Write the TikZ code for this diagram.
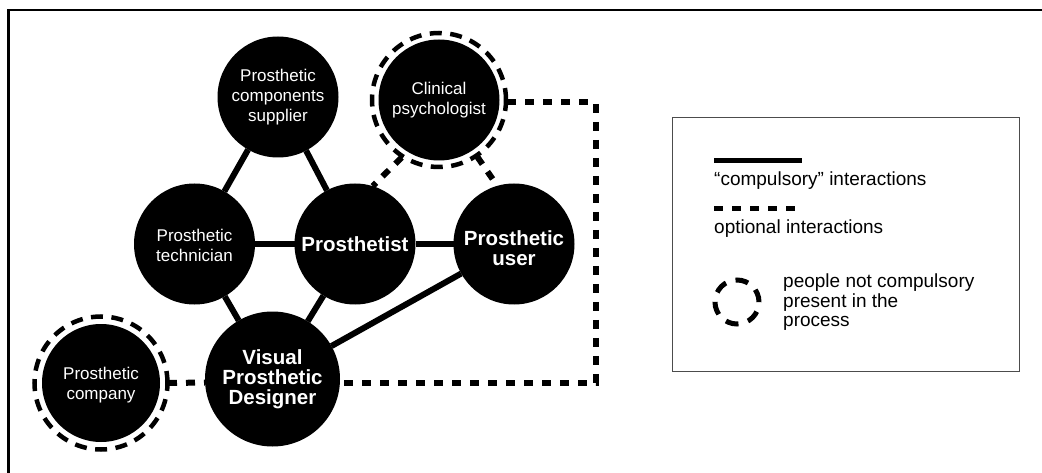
\documentclass[tikz,border=0pt]{standalone}
\usepackage{fontspec}
\setmainfont{Liberation Sans}
\begin{document}
\begin{tikzpicture}[x=1pt,y=-1pt,
 person/.style={circle, fill=black, text=white, inner sep=0pt, outer sep=0pt, minimum size=121pt, align=center, font=\fontsize{17pt}{20pt}\selectfont},
 keyperson/.style={person, font=\fontsize{20.5pt}{20pt}\selectfont\bfseries},
 optperson/.style={person, outer sep=8pt},
 ring/.style={draw=black, line width=4.5pt, dash pattern=on 12pt off 8.5pt},
 solidlink/.style={line width=6pt},
 optlink/.style={line width=6pt, dash pattern=on 9pt off 9pt},
 legtext/.style={font=\fontsize{19pt}{19.5pt}\selectfont, inner sep=0pt, align=left},
]
\useasboundingbox (0,0) rectangle (1042,473);
\fill[white] (0,0) rectangle (1042,473);
% frame (top and left edges only)
\draw[line width=2.5pt] (1042,10) -- (8.5,10) -- (8.5,473);

% people
\node[person] (supp) at (278,97) {Prosthetic\\components\\supplier};
\node[optperson] (psych) at (439,100) {Clinical\\psychologist};
\node[person] (tech) at (194.5,244) {\rule{0pt}{15pt}Prosthetic\\technician};
\node[keyperson] (prost) at (355,244) {Prosthetist};
\node[keyperson] (user) at (514,244) {\rule{0pt}{23pt}Prosthetic\\user};
\node[keyperson, minimum size=135pt] (vpd) at (272.5,379) {Visual\\Prosthetic\\Designer};
\node[optperson, minimum size=118pt] (comp) at (101,383) {\rule{0pt}{17pt}Prosthetic\\company};

% rings of people not compulsory present
\draw[ring] (psych.center) circle[radius=67pt];
\draw[ring] (comp.center) circle[radius=66.5pt];

% compulsory interactions
\draw[solidlink] (supp) -- (tech);
\draw[solidlink] (supp) -- (prost);
\draw[solidlink] (tech) -- (prost);
\draw[solidlink] (prost) -- (user);
\draw[solidlink] (tech) -- (vpd);
\draw[solidlink] (prost) -- (vpd);
\draw[solidlink] (user) -- (vpd);

% optional interactions
\coordinate (rx) at (596,0);
\draw[optlink] (psych.-123) -- (prost.73);
\draw[optlink] (psych.-56) -- (user.106);
\draw[optlink] (psych.-2.6) -| (rx |- vpd.-3.5) -- (vpd.-3.5);
\draw[optlink] (comp.east) -- (vpd.183.5);

% legend
\draw[black!70, line width=1pt] (672.3,117.3) rectangle (1019.3,371.7);
\coordinate (s1) at (714,161);
\coordinate (s2) at (802,161);
\draw[line width=5pt] (s1) -- (s2);
\node[legtext, anchor=base west] (lt1) at (714,185.5) {“compulsory” interactions};
\coordinate (d1) at (714,209);
\coordinate (d2) at (796,209);
\draw[line width=5pt, dash pattern=on 9pt off 9pt] (d1) -- (d2);
\node[legtext, anchor=base west] (lt2) at (714,233.5) {optional interactions};
\node[circle, draw=black, line width=5pt, dash pattern=on 13pt off 10pt, minimum size=44pt, inner sep=0pt] (lring) at (737,302) {};
\node[legtext, anchor=west] (lt3) at (783,302.5) {people not compulsory\\present in the\\process};
\end{tikzpicture}
\end{document}
